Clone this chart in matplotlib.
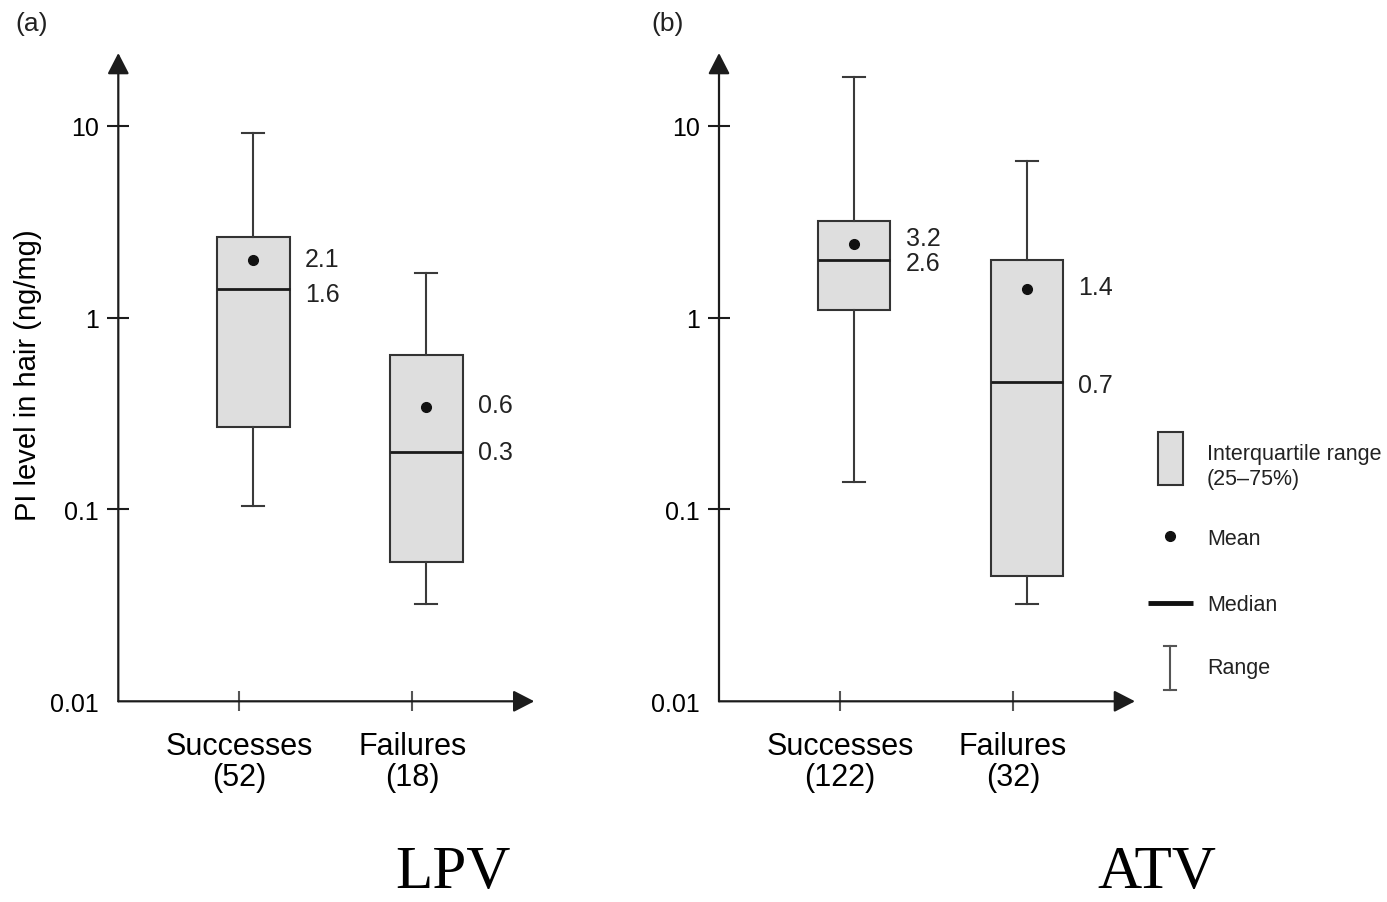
import matplotlib
matplotlib.use("Agg")
import matplotlib.pyplot as plt
from matplotlib.patches import Rectangle
from matplotlib.ticker import NullLocator

plt.rcParams['font.family'] = ['Liberation Sans', 'DejaVu Sans']
plt.rcParams['text.color'] = '#222222'

categories = ["Successes", "Failures"]

# (a) LPV
lpv_n = [52, 18]
lpv_min = [0.104, 0.032]
lpv_q1 = [0.268, 0.053]
lpv_med = [1.40, 0.198]
lpv_q3 = [2.64, 0.64]
lpv_max = [9.1, 1.70]
lpv_mean = [1.99, 0.34]
lpv_mean_lbl = ["2.1", "0.6"]
lpv_med_lbl = ["1.6", "0.3"]

# (b) ATV
atv_n = [122, 32]
atv_min = [0.139, 0.032]
atv_q1 = [1.09, 0.045]
atv_med = [2.00, 0.459]
atv_q3 = [3.19, 1.99]
atv_max = [18.0, 6.54]
atv_mean = [2.42, 1.40]
atv_mean_lbl = ["3.2", "1.4"]
atv_med_lbl = ["2.6", "0.7"]

W, H = 1387, 903
fig = plt.figure(figsize=(W / 100, H / 100), dpi=100)

axcol = '#1c1c1c'
boxfill = '#dedede'


def panel(left, tag, n, lo, q1, med, q3, hi, mean, mean_lbl, med_lbl, nudge):
    ax = fig.add_axes([left / W, 1 - 702.3 / H, 416 / W, (702.3 - 54) / H])
    ax.set_yscale('log')
    ax.set_ylim(0.01, 23.9)
    ax.set_xlim(0.30, 2.705)
    stats = []
    for i in range(len(categories)):
        stats.append(dict(med=med[i], q1=q1[i], q3=q3[i], whislo=lo[i], whishi=hi[i],
                          mean=mean[i], fliers=[]))
    pos = [1.08, 2.08]
    ax.bxp(stats, positions=pos, widths=0.42, capwidths=0.13, showmeans=True,
           showfliers=False, patch_artist=True,
           boxprops=dict(facecolor=boxfill, edgecolor='#333333', linewidth=1.5),
           medianprops=dict(color='#1a1a1a', linewidth=2.0),
           whiskerprops=dict(color='#3a3a3a', linewidth=1.5),
           capprops=dict(color='#3a3a3a', linewidth=1.5),
           meanprops=dict(marker='o', markerfacecolor='#111111', markeredgecolor='#111111',
                          markersize=7))
    for i in range(len(categories)):
        ax.annotate(mean_lbl[i], (pos[i] + 0.21, mean[i]), xytext=(11, nudge[i][0]),
                    textcoords='offset points', va='center', ha='left', fontsize=18)
        ax.annotate(med_lbl[i], (pos[i] + 0.21, med[i]), xytext=(11, nudge[i][1]),
                    textcoords='offset points', va='center', ha='left', fontsize=18)

    for s in ax.spines.values():
        s.set_visible(False)
    ax.annotate('', xy=(0, 1), xytext=(0, 0), xycoords='axes fraction',
                arrowprops=dict(arrowstyle='-|>,head_length=0.64,head_width=0.33',
                                color=axcol, lw=1.6, shrinkA=0, shrinkB=0,
                                mutation_scale=20))
    ax.annotate('', xy=(1, 0), xytext=(0, 0), xycoords='axes fraction',
                arrowprops=dict(arrowstyle='-|>,head_length=0.64,head_width=0.33',
                                color=axcol, lw=1.6, shrinkA=0, shrinkB=0,
                                mutation_scale=20))

    ax.set_yticks([0.01, 0.1, 1, 10])
    ax.set_yticklabels(["0.01", "0.1", "1", "10"])
    ax.yaxis.set_minor_locator(NullLocator())
    ax.tick_params(axis='y', direction='inout', length=16, width=1.5, color=axcol,
                   labelsize=18, pad=6)
    ax.yaxis.get_major_ticks()[0].tick1line.set_visible(False)
    ax.set_xticks([1, 2])
    ax.set_xticklabels([f"{c}\n({k})" for c, k in zip(categories, n)], linespacing=1.05)
    ax.tick_params(axis='x', direction='inout', length=15, width=1.5, color='#555555',
                   labelsize=22, pad=14)
    if tag == "(a)":
        ax.set_ylabel("PI level in hair (ng/mg)", fontsize=21)
        ax.yaxis.set_label_coords(-0.183, 0.505)
    ax.text(-0.248 if tag == "(a)" else -0.162, 1.047, tag, transform=ax.transAxes,
            fontsize=19, va='center', ha='left')
    return ax


panel(118.3, "(a)", lpv_n, lpv_min, lpv_q1, lpv_med, lpv_q3, lpv_max, lpv_mean,
      lpv_mean_lbl, lpv_med_lbl, [(1, -3), (2, 0)])
panel(719, "(b)", atv_n, atv_min, atv_q1, atv_med, atv_q3, atv_max, atv_mean,
      atv_mean_lbl, atv_med_lbl, [(4, -2), (2, -2)])

# legend and drug names drawn in figure pixels
lax = fig.add_axes([0, 0, 1, 1], zorder=-1)
lax.set_xlim(0, W)
lax.set_ylim(H, 0)
lax.axis('off')
lax.text(453, 901, "LPV", fontsize=44, family='Liberation Serif', color='black',
         ha='center', va='bottom')
lax.text(1157, 901, "ATV", fontsize=44, family='Liberation Serif', color='black',
         ha='center', va='bottom')
lax.add_patch(Rectangle((1158, 433), 25, 53, facecolor=boxfill, edgecolor='#333333', lw=1.5))
lax.text(1207, 455, "Interquartile range", fontsize=15.5, va='center')
lax.text(1207, 480, "(25\u201375%)", fontsize=15.5, va='center')
lax.plot([1170], [537], 'o', color='#111111', ms=7)
lax.text(1207, 540, "Mean", fontsize=15.5, va='center')
lax.plot([1148, 1193], [604, 604], color='#111111', lw=3.5, solid_capstyle='butt')
lax.text(1207, 606, "Median", fontsize=15.5, va='center')
lax.plot([1170, 1170], [647, 691], color='#555555', lw=1.5)
lax.plot([1164, 1176], [647, 647], color='#555555', lw=1.5)
lax.plot([1164, 1176], [691, 691], color='#555555', lw=1.5)
lax.text(1207, 669, "Range", fontsize=15.5, va='center')

fig.savefig("out.png", dpi=100)
